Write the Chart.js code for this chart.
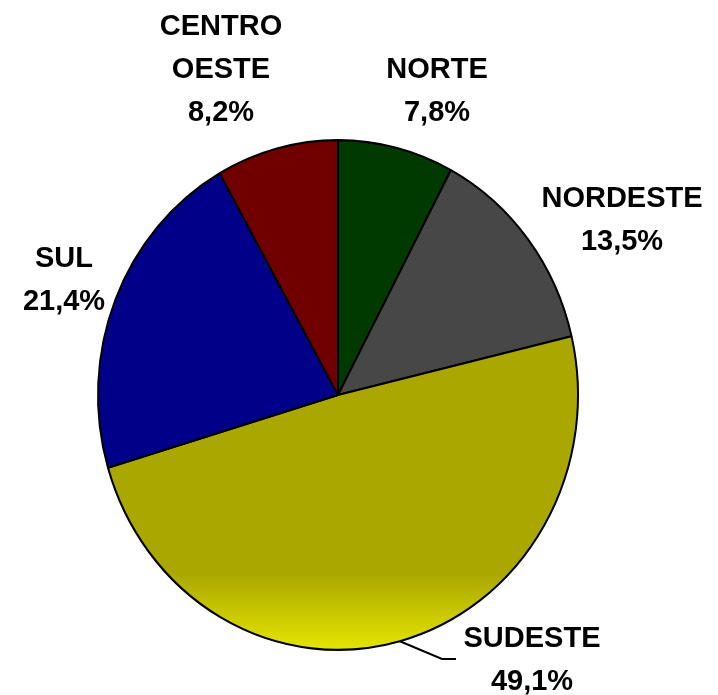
<!DOCTYPE html>
<html>
<head>
<meta charset="utf-8">
<script src="https://cdn.jsdelivr.net/npm/chart.js@4.4.0/dist/chart.umd.min.js"></script>
<style>
  html, body { margin: 0; padding: 0; background: #fff; }
</style>
</head>
<body>
<canvas id="regioesChart" width="718" height="695"></canvas>
<script>
const regioes = [["NORTE"], ["NORDESTE"], ["SUDESTE"], ["SUL"], ["CENTRO", "OESTE"]];
const percentuais = [7.8, 13.5, 49.1, 21.4, 8.2];
const cores = ["#003a00", "#474747", "#aaa800", "#000088", "#700000"];

// where each label sits (center x, first baseline)
const posRotulos = [[437, 78], [622, 207], [532, 647], [64, 267], [221, 35]];
const esticaY = 1.062; // the original pie is a bit taller than wide

const fmt = (v) => v.toFixed(1).replace(".", ",") + "%";

const ovalPlugin = {
  id: "oval",
  beforeDatasetsDraw(chart) {
    const arc = chart.getDatasetMeta(0).data[0];
    const c = chart.ctx;
    c.save();
    c.translate(arc.x, arc.y);
    c.scale(1, esticaY);
    c.translate(-arc.x, -arc.y);
  },
  afterDatasetsDraw(chart) {
    chart.ctx.restore();
  },
};

const rotulosPlugin = {
  id: "rotulos",
  afterDraw(chart) {
    const c = chart.ctx;
    const arcs = chart.getDatasetMeta(0).data;
    c.save();
    c.fillStyle = "#000";
    c.font = "bold 29px 'Liberation Sans', Arial, sans-serif";
    c.textAlign = "center";
    c.textBaseline = "alphabetic";
    regioes.forEach((linhas, i) => {
      const [x, y] = posRotulos[i];
      const texto = [...linhas, fmt(percentuais[i])];
      texto.forEach((t, k) => c.fillText(t, x, y + k * 43));
    });

    // leader line for SUDESTE
    const a = arcs[2];
    const mid = (a.startAngle + a.endAngle) / 2;
    const px = a.x + Math.cos(mid) * a.outerRadius;
    const py = a.y + Math.sin(mid) * a.outerRadius * esticaY;
    c.strokeStyle = "#000";
    c.lineWidth = 2;
    c.beginPath();
    c.moveTo(px, py);
    c.lineTo(442, 659);
    c.lineTo(456, 659);
    c.stroke();
    c.restore();
  },
};

new Chart(document.getElementById("regioesChart").getContext("2d"), {
  type: "pie",
  data: {
    labels: regioes.map((l) => l.join(" ")),
    datasets: [
      {
        data: percentuais,
        backgroundColor: (ctx) => {
          if (ctx.dataIndex !== 2) return cores[ctx.dataIndex];
          const area = ctx.chart.chartArea;
          if (!area) return cores[2];
          const cy = (area.top + area.bottom) / 2;
          const r = Math.min(area.width, area.height) / 2;
          const g = ctx.chart.ctx.createLinearGradient(0, cy + r * 0.7, 0, cy + r);
          g.addColorStop(0, "#aaa800");
          g.addColorStop(1, "#e6e600");
          return g;
        },
        borderColor: "#000",
        borderWidth: 2,
      },
    ],
  },
  options: {
    responsive: false,
    animation: false,
    devicePixelRatio: 1,
    layout: { padding: { left: 97, right: 139, top: 154, bottom: 59 } },
    plugins: {
      legend: { display: false },
      tooltip: { enabled: false },
    },
  },
  plugins: [ovalPlugin, rotulosPlugin],
});
</script>
</body>
</html>
